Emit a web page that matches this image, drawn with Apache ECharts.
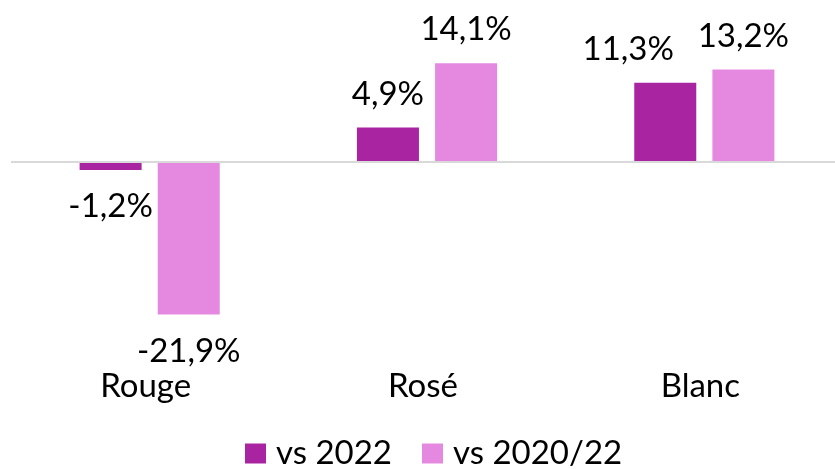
<!DOCTYPE html>
<html>
<head>
<meta charset="utf-8">
<script src="https://cdn.jsdelivr.net/npm/echarts@6/dist/echarts.min.js"></script>
<style>
html,body{margin:0;padding:0;background:#fff;}
#chart{width:835px;height:469px;}
</style>
</head>
<body>
<div id="chart"></div>
<script>
const categories = ['Rouge', 'Rosé', 'Blanc'];
const seriesNames = ['vs 2022', 'vs 2020/22'];
const vs2022 = [-1.2, 4.9, 11.3];
const vs202022 = [-21.9, 14.1, 13.2];

const colors = ['#A824A0', '#E589E0'];
const FONT = 'Lato';
const fmt = v => (v.toFixed(1).replace('.', ',')) + '%';

function makeData(values, seriesIdx) {
  return values.map((v, i) => {
    const item = {
      value: v,
      label: {
        position: v < 0 ? 'bottom' : 'top',
        distance: v < 0 ? 20 : 17
      }
    };
    if (seriesIdx === 0 && i === 2) item.label.offset = [-37, 0];
    return item;
  });
}

const chart = echarts.init(document.getElementById('chart'), null, {renderer: 'canvas'});
const labelStyle = {
  show: true,
  color: '#000',
  fontFamily: FONT,
  fontSize: 33,
  formatter: p => fmt(p.value)
};
chart.setOption({
  animation: false,
  backgroundColor: '#fff',
  grid: {left: 11, width: 832, top: 57, height: 279, containLabel: false, outerBoundsMode: 'none'},
  legend: {
    data: seriesNames,
    left: 240,
    top: 432,
    itemWidth: 21,
    itemHeight: 20,
    itemGap: 30,
    icon: 'rect',
    textStyle: {color: '#000', fontFamily: FONT, fontSize: 33, padding: [0, 0, 0, 5]}
  },
  xAxis: {
    type: 'category',
    data: categories,
    position: 'bottom',
    axisLine: {show: false, onZero: false},
    axisTick: {show: false},
    axisLabel: {color: '#000', fontFamily: FONT, fontSize: 33, margin: 34, padding: [0, 8, 0, 0]}
  },
  yAxis: {
    type: 'value',
    min: -25,
    max: 15,
    interval: 5,
    show: false,
    splitLine: {show: false}
  },
  series: [
    {
      name: seriesNames[0],
      type: 'bar',
      data: makeData(vs2022, 0),
      barWidth: 62,
      barGap: '26%',
      itemStyle: {color: colors[0]},
      label: labelStyle,
      markLine: {
        silent: true,
        symbol: 'none',
        label: {show: false},
        lineStyle: {color: '#D9D9D9', width: 2, type: 'solid'},
        data: [{yAxis: 0}]
      },
      z: 3
    },
    {
      name: seriesNames[1],
      type: 'bar',
      data: makeData(vs202022, 1),
      barWidth: 62,
      itemStyle: {color: colors[1]},
      label: labelStyle,
      z: 3
    }
  ]
});
</script>
</body>
</html>
